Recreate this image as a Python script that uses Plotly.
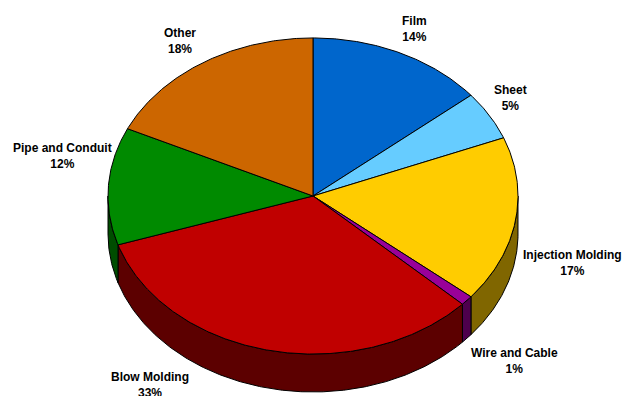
import numpy as np
import plotly.graph_objects as go

# Plastics end-use shares (percent), clockwise from 12 o'clock
labels = ["Film", "Sheet", "Injection Molding", "Wire and Cable",
          "Blow Molding", "Pipe and Conduit", "Other"]
values = [14, 5, 17, 1, 33, 12, 18]

top_colors = ["#0066cc", "#66ccff", "#ffcc00", "#990099",
              "#c00000", "#008a00", "#cc6600"]
side_colors = ["#003366", "#336680", "#806600", "#4d004d",
               "#5c0000", "#004d00", "#663300"]

# label anchor positions (fraction of the figure)
label_pos = [(414, 29), (510, 98), (572, 263), (514, 361),
             (150, 385), (62, 156), (180, 41)]

W, H = 634, 396
# tilted-disc geometry (units of the horizontal radius)
RY = 0.771      # vertical radius of the top face
DEPTH = 0.185   # thickness of the disc
CX_PX, CY_PX, RX_PX = 313, 196, 205

def ellipse(theta_deg, drop=0.0):
    t = np.radians(theta_deg)
    return np.sin(t), RY * np.cos(t) - drop

fig = go.Figure()

total = float(sum(values))
bounds = np.concatenate([[0], np.cumsum(values)]) / total * 360.0

# front walls of the disc (visible between 90 and 270 degrees)
for i in range(len(values)):
    a, b = max(bounds[i], 90.0), min(bounds[i + 1], 270.0)
    if b <= a:
        continue
    th = np.linspace(a, b, max(int((b - a) * 2), 2))
    xt, yt = ellipse(th)
    xb, yb = ellipse(th[::-1], DEPTH)
    xs = np.concatenate([xt, xb, xt[:1]])
    ys = np.concatenate([yt, yb, yt[:1]])
    fig.add_trace(go.Scatter(x=xs, y=ys, mode="lines", fill="toself",
                             fillcolor=side_colors[i],
                             line=dict(color="black", width=1),
                             hoverinfo="skip", showlegend=False))

# top face slices
for i in range(len(values)):
    a, b = bounds[i], bounds[i + 1]
    th = np.linspace(a, b, max(int((b - a) * 2), 2))
    xe, ye = ellipse(th)
    xs = np.concatenate([[0], xe, [0]])
    ys = np.concatenate([[0], ye, [0]])
    fig.add_trace(go.Scatter(x=xs, y=ys, mode="lines", fill="toself",
                             fillcolor=top_colors[i],
                             line=dict(color="black", width=1),
                             hoverinfo="skip", showlegend=False))

# slice labels
for lab, v, (px, py) in zip(labels, values, label_pos):
    fig.add_annotation(x=px / W, y=1 - py / H, xref="paper", yref="paper",
                       text=f"<b>{lab}</b><br><b>{round(v / total * 100)}%</b>",
                       showarrow=False, align="center",
                       xanchor="center", yanchor="middle",
                       font=dict(family="Liberation Sans Narrow, Arial Narrow, sans-serif",
                                 size=12, color="black"))

fig.update_layout(
    width=W, height=H,
    margin=dict(l=0, r=0, t=0, b=0),
    paper_bgcolor="white", plot_bgcolor="white",
    xaxis=dict(range=[-CX_PX / RX_PX, (W - CX_PX) / RX_PX], visible=False,
               fixedrange=True),
    yaxis=dict(range=[-(H - CY_PX) / RX_PX, CY_PX / RX_PX], visible=False,
               fixedrange=True),
)

fig.write_html("out.html")
